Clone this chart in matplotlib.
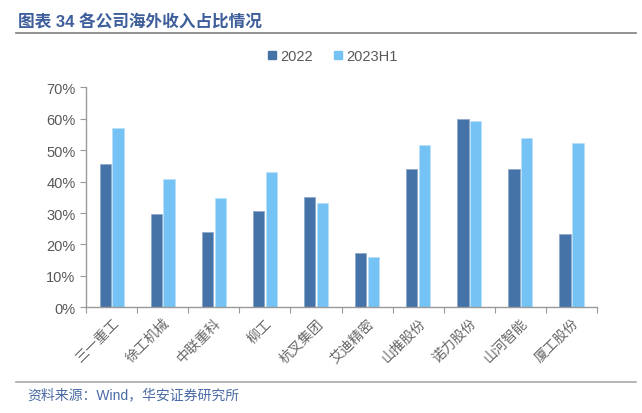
import numpy as np
import matplotlib.pyplot as plt
from matplotlib.lines import Line2D
from matplotlib.ticker import PercentFormatter

plt.rcParams['font.family'] = ['Liberation Sans', 'Noto Sans CJK SC']

companies = ['三一重工', '徐工机械', '中联重科', '柳工', '杭叉集团',
             '艾迪精密', '山推股份', '诺力股份', '山河智能', '厦工股份']
share_2022 = [45.6, 29.7, 24.0, 30.6, 35.0, 17.4, 44.0, 59.8, 44.1, 23.3]
share_2023h1 = [57.0, 40.8, 34.8, 43.2, 33.1, 15.9, 51.6, 59.2, 53.8, 52.4]
series_names = ['2022', '2023H1']

dark = '#4572a7'
light = '#75c3f4'
grey = '#595959'

fig = plt.figure(figsize=(6.42, 4.14), dpi=100)
ax = fig.add_axes([0.134, 0.2553, 0.796, 0.5314])

x = np.arange(len(companies))
w = 0.22
ax.bar(x - 0.125, share_2022, w, color=dark, edgecolor='#8aa6c8', linewidth=0.5)
ax.bar(x + 0.125, share_2023h1, w, color=light, edgecolor='#b8e0fa', linewidth=0.5)

ax.set_xlim(-0.5, len(companies) - 0.5)
ax.set_ylim(0, 70)
ax.set_yticks(np.arange(0, 71, 10))
ax.yaxis.set_major_formatter(PercentFormatter(decimals=0))
ax.set_xticks(np.arange(-0.5, len(companies), 1))
ax.set_xticklabels([])
ax.set_xticks(x, minor=True)
ax.set_xticklabels(companies, minor=True, rotation=45, ha='right', va='top',
                   rotation_mode='anchor', fontsize=10, color='#666666',
                   family=['Noto Sans CJK SC'], fontweight='light')
ax.tick_params(axis='x', which='minor', length=0, pad=6)
ax.tick_params(axis='x', which='major', length=4, color='#999999', direction='out')
ax.tick_params(axis='y', length=4, color='#999999', labelsize=10.5, labelcolor=grey)
for s in ['top', 'right']:
    ax.spines[s].set_visible(False)
for s in ['left', 'bottom']:
    ax.spines[s].set_color('#999999')
    ax.spines[s].set_linewidth(1.0)

handles = [Line2D([], [], marker='s', linestyle='', markersize=6, color=c)
           for c in (dark, light)]
fig.legend(handles, series_names, loc='center', bbox_to_anchor=(0.513, 0.862), ncol=2,
           frameon=False, fontsize=10.5, handletextpad=-0.2, columnspacing=1.0,
           handlelength=1.5, labelcolor=grey)

fig.text(0.028, 0.945, '图表 34 各公司海外收入占比情况', fontsize=12, fontweight='bold',
         color='#3d5e9a', va='center')
fig.add_artist(Line2D([0.025, 0.99], [0.918, 0.918], color='#7f7f7f', linewidth=1.2))
fig.add_artist(Line2D([0.025, 0.99], [0.074, 0.074], color='#aaaaaa', linewidth=1.2))
fig.text(0.042, 0.045, '资料来源：Wind，华安证券研究所', fontsize=10, color='#4a6aa5',
         va='center')

fig.savefig('out.png', dpi=100)
